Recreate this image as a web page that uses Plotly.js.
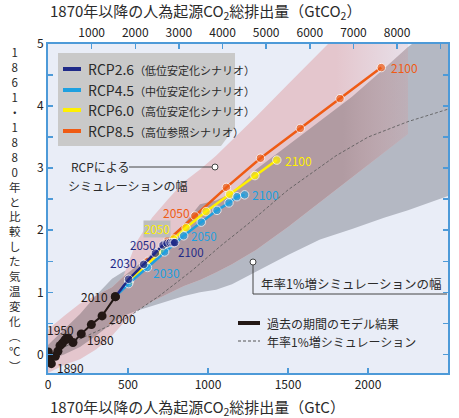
<!DOCTYPE html>
<html><head><meta charset="utf-8">
<script src="https://cdn.plot.ly/plotly-3.0.1.min.js"></script>
<style>body{margin:0;background:#fff}#chart{width:459px;height:418px}</style>
</head><body><div id="chart"></div>
<script>
// ---------------- DATA ----------------
const histYears = [1870,1880,1890,1900,1910,1920,1930,1940,1950,1960,1970,1980,1990,2000,2010];
const histX = [2, 12, 21, 46, 62, 75, 90, 105, 117, 130, 156, 208, 271, 338, 421];
const histY = [0.04, -0.05, -0.15, -0.03, 0.05, 0.14, 0.18, 0.23, 0.26, 0.25, 0.19, 0.33, 0.48, 0.62, 0.93];

const rcpYears = [2020,2030,2040,2050,2060,2070,2080,2090,2100];
const rcp26X = [504, 598, 671, 719, 744, 763, 777, 786, 792];
const rcp26Y = [1.21, 1.45, 1.63, 1.76, 1.79, 1.80, 1.80, 1.80, 1.80];
const rcp45X = [504, 621, 729, 848, 958, 1056, 1131, 1181, 1229];
const rcp45Y = [1.14, 1.40, 1.65, 1.91, 2.13, 2.32, 2.44, 2.54, 2.57];
const rcp60X = [505, 612, 700, 785, 863, 988, 1136, 1293, 1430];
const rcp60Y = [1.17, 1.43, 1.64, 1.86, 2.04, 2.30, 2.58, 2.88, 3.13];
const rcp85X = [510, 625, 750, 918, 1115, 1328, 1577, 1825, 2083];
const rcp85Y = [1.19, 1.50, 1.84, 2.23, 2.69, 3.16, 3.64, 4.12, 4.62];

// 1%/yr CO2 simulation (dashed)
const pctX = [30, 200, 400, 500, 700, 900, 1080, 1250, 1500, 1800, 2000, 2250, 2500];
const pctY = [0.02, 0.25, 0.48, 0.60, 0.95, 1.35, 1.75, 2.10, 2.65, 3.20, 3.50, 3.75, 3.95];

// band ranges on a common grid
const bandX  = [0, 100, 200, 300, 400, 470, 550, 650, 750, 850, 950, 1050, 1150, 1300, 1500, 1700, 1900, 2100, 2250, 2500];
const greyHi = [0.15, 0.40, 0.65, 0.95, 1.22, 1.33, 1.42, 1.62, 1.85, 2.10, 2.42, 2.48, 2.60, 2.98, 3.37, 3.76, 4.15, 4.60, 4.95, 5.45];
const greyLo = [-0.10, 0.00, 0.12, 0.30, 0.50, 0.62, 0.70, 0.78, 0.86, 0.94, 1.00, 1.04, 1.13, 1.33, 1.60, 1.85, 2.02, 2.20, 2.32, 2.55];
const pinkHi = [0.40, 0.62, 0.82, 0.95, 1.08, 1.25, 1.80, 2.20, 2.50, 2.78, 2.98, 3.20, 3.45, 3.83, 4.35, 4.88, 5.40, 5.90, 6.30, null];
const pinkLo = [-0.30, -0.17, -0.08, 0.08, 0.30, 0.50, 0.70, 0.85, 0.98, 1.10, 1.20, 1.32, 1.45, 1.68, 2.05, 2.45, 2.85, 3.25, 3.55, null];

const bottomTickVals = [0, 500, 1000, 1500, 2000, 2500];
const topTickVals = [1000, 2000, 3000, 4000, 5000, 6000, 7000, 8000];
const topMinorTickVals = [9000];
const yTickVals = [0, 1, 2, 3, 4, 5];

const legendNames = ['RCP2.6', 'RCP4.5', 'RCP6.0', 'RCP8.5'];
const legendSub = ['（低位安定化シナリオ）','（中位安定化シナリオ）','（高位安定化シナリオ）','（高位参照シナリオ）'];
const yTitleChars = ['1','8','6','1','・','1','8','8','0','年','と','比','較','し','た','気','温','変','化','︵','℃','︶'];

// ---------------- STYLE ----------------
const FONT = '"Noto Sans CJK JP", "Noto Sans", sans-serif';
const C = {navy:'#1f2a88', blue:'#1ea0e0', yellow:'#fff000', orange:'#ef5b14', black:'#231815',
  pink:'#e4c6cd', grey:'#b4b8c3', mauve:'#b19ba2', bg:'#e9edf7', axis:'#4d9ad8', text:'#2b2b2b'};
const W = 459, H = 418, ML = 48, MR = 11, MT = 44, MB = 45;
const PW = W - ML - MR, PH = H - MT - MB;
const px = v => (v - ML) / PW;          // pixel -> paper x
const py = v => (H - MB - v) / PH;      // pixel -> paper y

function bandPoly(xs, hi, lo) {
  const X = [], Y = [];
  for (let i = 0; i < xs.length; i++) if (hi[i] != null) { X.push(xs[i]); Y.push(hi[i]); }
  for (let i = xs.length - 1; i >= 0; i--) if (lo[i] != null) { X.push(xs[i]); Y.push(lo[i]); }
  return {X, Y};
}
const ovHi = bandX.map((x, i) => pinkHi[i] == null ? null : Math.min(pinkHi[i], greyHi[i]));
const ovLo = bandX.map((x, i) => pinkLo[i] == null ? null : Math.max(pinkLo[i], greyLo[i]));

const g = bandPoly(bandX, greyHi, greyLo);
const p = bandPoly(bandX, pinkHi, pinkLo);
const o = bandPoly(bandX, ovHi, ovLo);
const pinkEnd = bandX[pinkHi.findLastIndex(v => v != null)];

const traces = [];
const poly = (b, col, grad) => {
  const t = {x: b.X, y: b.Y, mode: 'lines', fill: 'toself', fillcolor: col,
    line: {width: 0}, hoverinfo: 'skip', showlegend: false};
  if (grad) t.fillgradient = {type: 'horizontal', start: 0, stop: pinkEnd, colorscale: grad};
  return t;
};
traces.push(poly(g, C.grey));
traces.push(poly(p, C.pink, [[0, 'rgba(228,198,205,1)'], [0.8, 'rgba(228,198,205,1)'], [1, 'rgba(228,198,205,0.35)']]));
traces.push(poly(o, C.mauve, [[0, 'rgba(177,155,162,1)'], [0.82, 'rgba(177,155,162,1)'], [1, 'rgba(177,155,162,0.4)']]));
traces.push({x: pctX, y: pctY, mode: 'lines', line: {color: '#555', width: 0.8, dash: '3px,2px'}, showlegend: false});
traces.push({x: histX, y: histY, mode: 'lines+markers', line: {color: C.black, width: 2},
  marker: {color: C.black, size: 9}, showlegend: false});

const start = [histX[histX.length - 1], histY[histY.length - 1]];
const series = [
  {X: rcp85X, Y: rcp85Y, c: C.orange},
  {X: rcp60X, Y: rcp60Y, c: C.yellow},
  {X: rcp45X, Y: rcp45Y, c: C.blue},
  {X: rcp26X, Y: rcp26Y, c: C.navy},
];
series.forEach(s => traces.push({x: [start[0], ...s.X], y: [start[1], ...s.Y], mode: 'lines+markers',
  line: {color: s.c, width: 2.5}, marker: {color: s.c, size: [0, 8.5, 8.5, 8.5, 8.5, 8.5, 8.5, 8.5, 8.5, 8.5]}, showlegend: false}));
traces.push({x: [start[0]], y: [start[1]], mode: 'markers', marker: {color: C.black, size: 9}, showlegend: false});
traces.push({x: [0], y: [0], xaxis: 'x2', mode: 'markers', marker: {opacity: 0}, hoverinfo: 'skip', showlegend: false});

const ann = [];
function lab(X, Y, i, text, color, xanchor, xs, ys, bg, size) {
  const a = {x: X[i], y: Y[i], xref: 'x', yref: 'y', text: text, showarrow: false,
    xanchor: xanchor, yanchor: 'middle', xshift: xs, yshift: ys,
    font: {family: FONT, size: size || 12, color: color}};
  if (bg) { a.bgcolor = bg; a.borderpad = 0; }
  ann.push(a);
}
const hy = i => String(histYears[i]);
const ry = i => String(rcpYears[i]);
lab(histX, histY, 2, hy(2), C.black, 'left', 4, -4);
lab(histX, histY, 8, hy(8), C.black, 'center', -6, 9);
lab(histX, histY, 11, hy(11), C.black, 'left', 4, -6);
lab(histX, histY, 13, hy(13), C.black, 'left', 5, -3);
lab(histX, histY, 14, hy(14), C.black, 'right', -5, 0);
lab(rcp26X, rcp26Y, 1, ry(1), C.navy, 'right', -5, 2);
lab(rcp26X, rcp26Y, 3, ry(3), C.navy, 'right', -5, 0, null, 11.5);
lab(rcp26X, rcp26Y, 8, ry(8), C.navy, 'left', 1, -9, null, 11.5);
lab(rcp45X, rcp45Y, 1, ry(1), C.blue, 'left', 4, -5);
lab(rcp45X, rcp45Y, 3, ry(3), C.blue, 'left', 5, 0, null, 11.5);
lab(rcp45X, rcp45Y, 8, ry(8), C.blue, 'left', 5, 0);
lab(rcp60X, rcp60Y, 3, ry(3), C.yellow, 'right', -3, 10, '#bdbdbd', 11.5);
lab(rcp60X, rcp60Y, 8, ry(8), C.yellow, 'left', 6, 0);
lab(rcp85X, rcp85Y, 3, ry(3), C.orange, 'right', -3, 3);
lab(rcp85X, rcp85Y, 8, ry(8), C.orange, 'left', 8, 0);

const txt = (x, y, text, size, opts) => Object.assign({x: px(x), y: py(y), xref: 'paper', yref: 'paper',
  text: text, showarrow: false, xanchor: 'left', yanchor: 'middle',
  font: {family: FONT, size: size, color: C.text}}, opts || {});

// axis titles
ann.push(txt(48, 12, '1870年以降の人為起源CO<sub>2</sub>総排出量（GtCO<sub>2</sub>）', 15));
ann.push(txt(48, 407, '1870年以降の人為起源CO<sub>2</sub>総排出量（GtC）', 15));
ann.push(txt(15, 209, yTitleChars.join('<br>'), 11.5, {xanchor: 'center', align: 'center'}));

const shapes = [];
shapes.push({type: 'path', xref: 'paper', yref: 'paper', fillcolor: '#c9c9c9', line: {width: 0}, layer: 'above',
  path: `M${px(58)},${py(53)} L${px(235)},${py(53)} L${px(235)},${py(127)} L${px(221)},${py(146)} L${px(58)},${py(146)} Z`});
const legCols = [C.navy, C.blue, C.yellow, C.orange];
const rows = [69, 90, 110, 131];
legendNames.forEach((n, i) => {
  shapes.push({type: 'line', xref: 'paper', yref: 'paper', layer: 'above', x0: px(63), x1: px(81), y0: py(rows[i]), y1: py(rows[i]),
    line: {color: legCols[i], width: 4}});
  ann.push(txt(86, rows[i], n + '<span style="font-size:11px">' + legendSub[i] + '</span>', 14));
});
shapes.push({type: 'line', xref: 'paper', yref: 'paper', layer: 'above', x0: px(238), x1: px(260), y0: py(323), y1: py(323),
  line: {color: C.black, width: 4}});
ann.push(txt(265, 323, '過去の期間のモデル結果', 12));
shapes.push({type: 'line', xref: 'paper', yref: 'paper', layer: 'above', x0: px(238), x1: px(260), y0: py(341), y1: py(341),
  line: {color: '#555', width: 1, dash: '3px,2px'}});
ann.push(txt(265, 341, '年率1%増シミュレーション', 12));

ann.push(txt(69, 166.5, 'RCPによる', 12));
ann.push(txt(66, 185, 'シミュレーションの幅', 12));
shapes.push({type: 'line', xref: 'paper', yref: 'paper', layer: 'above', x0: px(129), x1: px(212), y0: py(167), y1: py(167),
  line: {color: '#444', width: 1}});
shapes.push({type: 'circle', xref: 'paper', yref: 'paper', layer: 'above', x0: px(212), x1: px(218), y0: py(164), y1: py(170),
  line: {color: '#444', width: 1}, fillcolor: '#fff'});
ann.push(txt(259, 283, '年率1%増シミュレーションの幅', 12.5));
shapes.push({type: 'path', xref: 'paper', yref: 'paper', layer: 'above', line: {color: '#444', width: 1},
  path: `M${px(253)},${py(265)} L${px(253)},${py(294)} L${px(447)},${py(294)}`});
shapes.push({type: 'circle', xref: 'paper', yref: 'paper', layer: 'above', x0: px(250), x1: px(256), y0: py(259), y1: py(265),
  line: {color: '#444', width: 1}, fillcolor: '#fff'});

const axBase = {showgrid: false, zeroline: false, showline: true, linecolor: C.axis, linewidth: 2,
  ticks: 'inside', ticklen: 5, tickwidth: 1.5, tickcolor: C.axis,
  tickfont: {family: FONT, size: 12, color: '#222'}, fixedrange: true};

const layout = {
  width: W, height: H, margin: {l: ML, r: MR, t: MT, b: MB},
  paper_bgcolor: '#fff', plot_bgcolor: C.bg, showlegend: false,
  xaxis: Object.assign({}, axBase, {range: [0, 2500], tickvals: bottomTickVals, mirror: false}),
  xaxis2: Object.assign({}, axBase, {range: [0, 2500 * 44 / 12], overlaying: 'x', side: 'top', anchor: 'y',
    tickvals: topTickVals,
    minor: {tickvals: topMinorTickVals, ticks: 'inside', ticklen: 5, tickwidth: 1.5, tickcolor: C.axis, showgrid: false}}),
  yaxis: Object.assign({}, axBase, {range: [-0.3, 5], tickvals: yTickVals, mirror: 'ticks',
    minor: {dtick: 0.5, ticks: 'inside', ticklen: 5, tickwidth: 1.5, tickcolor: C.axis, showgrid: false}}),
  annotations: ann, shapes: shapes,
  font: {family: FONT}
};
Plotly.newPlot('chart', traces, layout, {staticPlot: true, displayModeBar: false});
</script></body></html>
